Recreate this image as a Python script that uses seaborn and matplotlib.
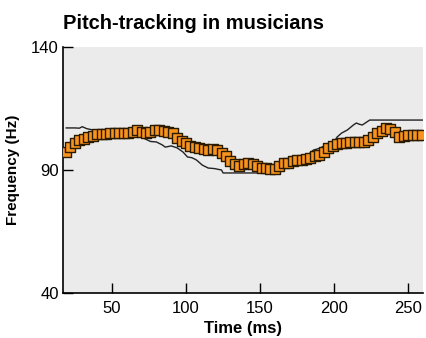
import numpy as np
import pandas as pd
import matplotlib
matplotlib.use("Agg")
import matplotlib.pyplot as plt
import seaborn as sns

# musician pitch track (orange squares), sampled every 3 ms
time_ms = list(range(19, 260, 3))
musician_hz = [97.5, 99.5, 101, 102, 102.8, 103.5, 104, 104.5, 104.8, 104.8,
               105, 105, 105, 105, 105, 105.5, 106.3, 105.5, 105.2, 105.5,
               106.3, 106.3, 106, 105.5, 105, 103, 101.8, 100.8, 99.8, 99.2,
               98.8, 98.5, 98.2, 98.4, 98, 97, 95.5, 93.5, 92.5, 91.8,
               92.3, 92.8, 92.6, 91.5, 91, 90.8, 90.3, 90.5, 91.8, 92.8,
               93, 93.5, 94, 94.2, 94.5, 95, 95.6, 96.3, 97.5, 99,
               99.8, 100.5, 101, 101, 101.3, 101.5, 101.2, 101.5, 102, 103.5,
               105, 106, 107, 106.5, 105.5, 103.5, 104, 104.2, 104.2, 104.2,
               104.2]

# stimulus contour (thin black line)
stim_t = [19, 25, 28, 30, 33, 37, 49, 60, 67, 76, 80, 84, 86, 90, 94, 98,
          101, 104, 107, 111, 115, 119, 124, 125, 153, 160, 170, 180, 186,
          190, 195, 200, 202, 205, 209, 213, 215, 217, 219, 221, 224, 260]
stim_hz = [107.1, 107.1, 107.0, 107.6, 106.8, 106.3, 105.9, 105.2, 104.2,
           101.6, 101.4, 100.2, 99.3, 99.8, 99.0, 97.3, 95.3, 95.0, 94.1,
           92.0, 90.8, 90.6, 90.0, 88.8, 88.8, 90.5, 93.0, 95.0, 98.1, 98.8,
           100.2, 101.5, 103.4, 105.0, 106.3, 108.3, 109.1, 108.6, 108.3,
           109.1, 110.3, 110.3]

# second response contour, mostly hidden under the squares
resp_t = [19, 30, 45, 60, 70, 80, 90, 100, 110, 120, 130, 140, 150, 160,
          170, 180, 190, 200, 210, 220, 230, 240, 250, 260]
resp_hz = [98.5, 102.5, 105.0, 105.3, 105.8, 106.5, 105.5, 100.5, 98.6, 98.2,
           93.5, 92.6, 91.2, 90.5, 93.2, 94.5, 96.5, 100.2, 101.3, 101.4,
           105.5, 106.2, 104.2, 104.2]

df = pd.DataFrame({"t": time_ms, "hz": musician_hz})
stim = pd.DataFrame({"t": stim_t, "hz": stim_hz})
resp = pd.DataFrame({"t": resp_t, "hz": resp_hz})

sns.set_style("ticks")
plt.rcParams["font.family"] = ["Liberation Sans", "DejaVu Sans"]
plt.rcParams["text.color"] = "black"
plt.rcParams["axes.labelcolor"] = "black"

fig = plt.figure(figsize=(4.26, 3.38), dpi=100)
ax = fig.add_axes([0.148, 0.133, 0.845, 0.728])
ax.set_facecolor("#ebebeb")

sns.lineplot(data=resp, x="t", y="hz", color="#222222", linewidth=1.0, ax=ax, zorder=2)
sns.lineplot(data=stim, x="t", y="hz", color="#222222", linewidth=1.0, ax=ax, zorder=2)
sns.scatterplot(data=df, x="t", y="hz", marker="s", s=46, color="#f7931e",
                edgecolor="#2a1a00", linewidth=1.0, ax=ax, zorder=3)

ax.set_xlim(17, 260)
ax.set_ylim(40, 140)
ax.set_xticks([50, 100, 150, 200, 250])
ax.set_yticks([40, 90, 140])
ax.tick_params(direction="in", length=7, width=1, labelsize=12,
               colors="black", labelcolor="black")
ax.tick_params(axis="x", pad=6)
ax.tick_params(axis="y", pad=3)

for side in ["top", "right"]:
    ax.spines[side].set_visible(False)
for side in ["left", "bottom"]:
    ax.spines[side].set_linewidth(1.2)
    ax.spines[side].set_color("black")

ax.set_xlabel("Time (ms)", fontsize=12, fontweight="bold", labelpad=3)
ax.set_ylabel("Frequency (Hz)", fontsize=11, fontweight="bold", labelpad=8)
ax.set_title("Pitch-tracking in musicians", fontsize=14.5, fontweight="bold",
             loc="left", pad=13, color="black")

fig.savefig("out.png", dpi=100)
